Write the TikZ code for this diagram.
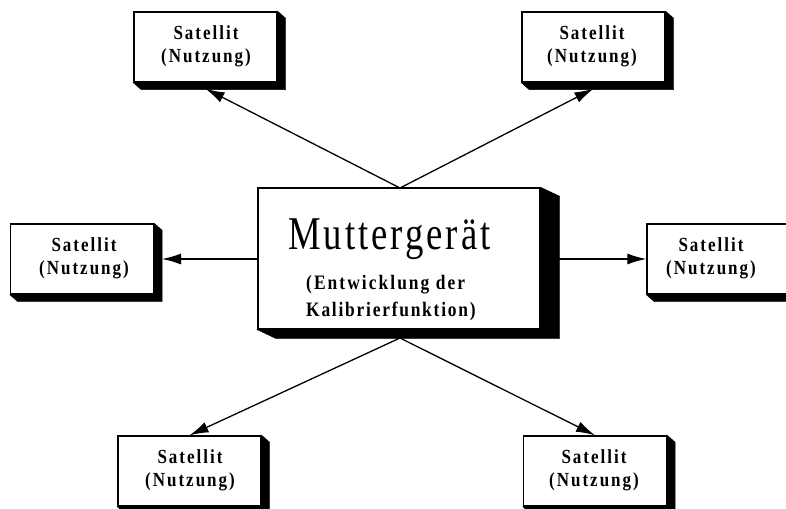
\documentclass[tikz,border=0pt]{standalone}
\usepackage{fontspec}
\setmainfont{Liberation Serif}
\newfontfamily\satfont[LetterSpace=10,FakeStretch=0.85]{Liberation Serif}
\newfontfamily\subfont[LetterSpace=8.6,FakeStretch=0.85]{Liberation Serif}
\newfontfamily\bigfont[LetterSpace=6.4,FakeStretch=0.78]{Liberation Serif}
\usetikzlibrary{arrows.meta,calc}
\tikzset{
  satbox/.style={draw,line width=1.4pt,fill=white,minimum width=143pt,minimum height=70pt,inner sep=0pt},
  mainbox/.style={draw,line width=1.4pt,fill=white,minimum width=282pt,minimum height=141pt,inner sep=0pt},
  satlabel/.style={align=center,inner sep=0pt,font=\satfont\bfseries\fontsize{20}{23}\selectfont},
  conn/.style={line width=1.3pt,-{Latex[length=19pt,width=11pt]}},
  shade/.style={fill=black,draw=black,line width=.4pt}
}
\newcommand{\castshadow}[3]{%
  \fill[shade] (#1.north east) -- ($(#1.north east)+(#2,#3)$) -- ($(#1.south east)+(#2,#3)$) -- ($(#1.south west)+(#2,#3)$) -- (#1.south west) -- (#1.south east) -- cycle;}
\begin{document}
\begin{tikzpicture}[x=1pt,y=-1pt]
\useasboundingbox (0,0) rectangle (786,508);
\node[satbox] (s1) at (205.5,47) {};
\node[satbox] (s2) at (593.5,47) {};
\node[satbox] (s3) at (82,259) {};
\node[satbox] (s4) at (718.5,259) {};
\node[satbox] (s5) at (189.5,471) {};
\node[satbox] (s6) at (595,471) {};
\node[mainbox] (m) at (399,258.5) {};
\castshadow{s1}{8}{7}\castshadow{s2}{8}{7}\castshadow{s3}{8}{7}\castshadow{s4}{8}{7}\castshadow{s5}{8}{7}\castshadow{s6}{8}{7}
\castshadow{m}{19}{9}
\node[satlabel] (l1) at (206,46) {Satellit\\(Nutzung)};
\node[satlabel] (l2) at (592,46) {Satellit\\(Nutzung)};
\node[satlabel] (l3) at (84,258) {Satellit\\(Nutzung)};
\node[satlabel] (l4) at (711,258) {Satellit\\(Nutzung)};
\node[satlabel] (l5) at (190,470) {Satellit\\(Nutzung)};
\node[satlabel] (l6) at (594,470) {Satellit\\(Nutzung)};
\node[font=\bigfont\fontsize{47}{47}\selectfont,inner sep=0pt,anchor=base west] (t1) at (288,249) {Muttergerät};
\node[inner sep=0pt,anchor=base west,font=\satfont\bfseries\fontsize{20.5}{27}\selectfont] (t2) at (306,289) {(Entwicklung der};
\node[inner sep=0pt,anchor=base west,font=\subfont\bfseries\fontsize{20.5}{27}\selectfont] (t3) at (306,316) {Kalibrierfunktion)};
\coordinate (cT) at (400,188);
\coordinate (cB) at (400,338);
\coordinate (cL) at (258,259);
\coordinate (cR) at (559,259);
\coordinate (tL) at (162,259);
\draw[conn] (cT) -- ($(s1.south)+(0,6)$);
\draw[conn] (cT) -- ($(s2.south)+(0,6)$);
\draw[conn] (cL) -- (tL);
\draw[conn] (cR) -- (s4.west);
\draw[conn] (cB) -- (s5.north);
\draw[conn] (cB) -- (s6.north);
\end{tikzpicture}
\end{document}
